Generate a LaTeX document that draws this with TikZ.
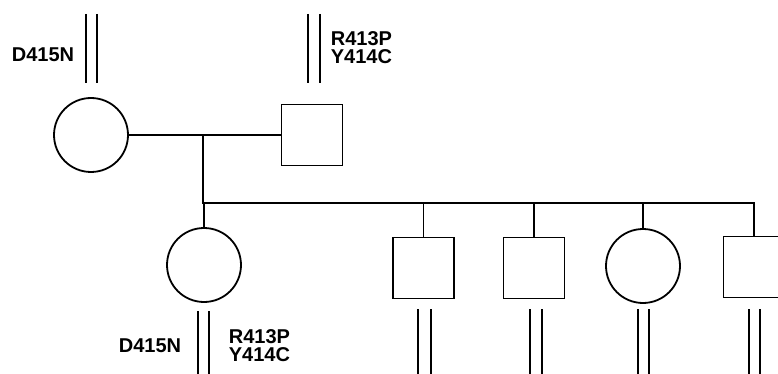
\documentclass[tikz,border=0pt]{standalone}
\usepackage{fontspec}
\setmainfont{Liberation Sans}
\begin{document}
\begin{tikzpicture}[x=1pt,y=-1pt,
  every path/.style={line width=1.8pt},
  fem/.style={draw,circle,minimum size=74pt,inner sep=0pt,line width=1.8pt},
  mal/.style={draw,rectangle,minimum size=61pt,inner sep=0pt,line width=1.8pt},
  chrom/.style={line width=1.8pt},
  txt/.style={font=\fontsize{20}{17}\selectfont\bfseries,inner sep=0pt,text height=14.4pt,text depth=0pt},
  lbl/.style={txt,anchor=east},
  lblr/.style={txt,anchor=west}]
\useasboundingbox (0,0) rectangle (778,374);
% parents
\node[fem] (mo) at (91,135) {};
\node[mal] (fa) at (312,135) {};
\coordinate (mid) at (203,135);
\draw (mo.east) -- (fa.west);
\coordinate (sibL) at (203,203);
\coordinate (sibR) at (754,203);
\draw (mid) -- (sibL) -- (sibR);
% children
\node[fem] (c1) at (204,265) {};
\node[mal] (c2) at (423.5,268) {};
\node[mal] (c3) at (534,268) {};
\node[fem] (c4) at (643,266) {};
\node[mal] (c5) at (754,267) {};
\foreach \c in {c1,c2,c3,c4,c5}{\draw (sibL) -| (\c.north);}
% chromosome lines
\draw[chrom] (86,14) -- (86,83) (97,14) -- (97,83);
\draw[chrom] (308,14) -- (308,83) (320,14) -- (320,83);
\draw[chrom] (198,311) -- (198,374) (209,311) -- (209,374);
\draw[chrom] (418,309) -- (418,374) (431,309) -- (431,374);
\draw[chrom] (530,309) -- (530,374) (542,309) -- (542,374);
\draw[chrom] (638,309) -- (638,374) (649,309) -- (649,374);
\draw[chrom] (749,309) -- (749,374) (760,309) -- (760,374);
% labels
\node[lbl] (l1) at (75,54) {D415N};
\node[lblr] (l2a) at (330,38) {R413P};
\node[lblr] (l2b) at (330,56) {Y414C};
\node[lbl] (l3) at (182,345) {D415N};
\node[lblr] (l4a) at (228,336) {R413P};
\node[lblr] (l4b) at (228,354) {Y414C};
\end{tikzpicture}
\end{document}
